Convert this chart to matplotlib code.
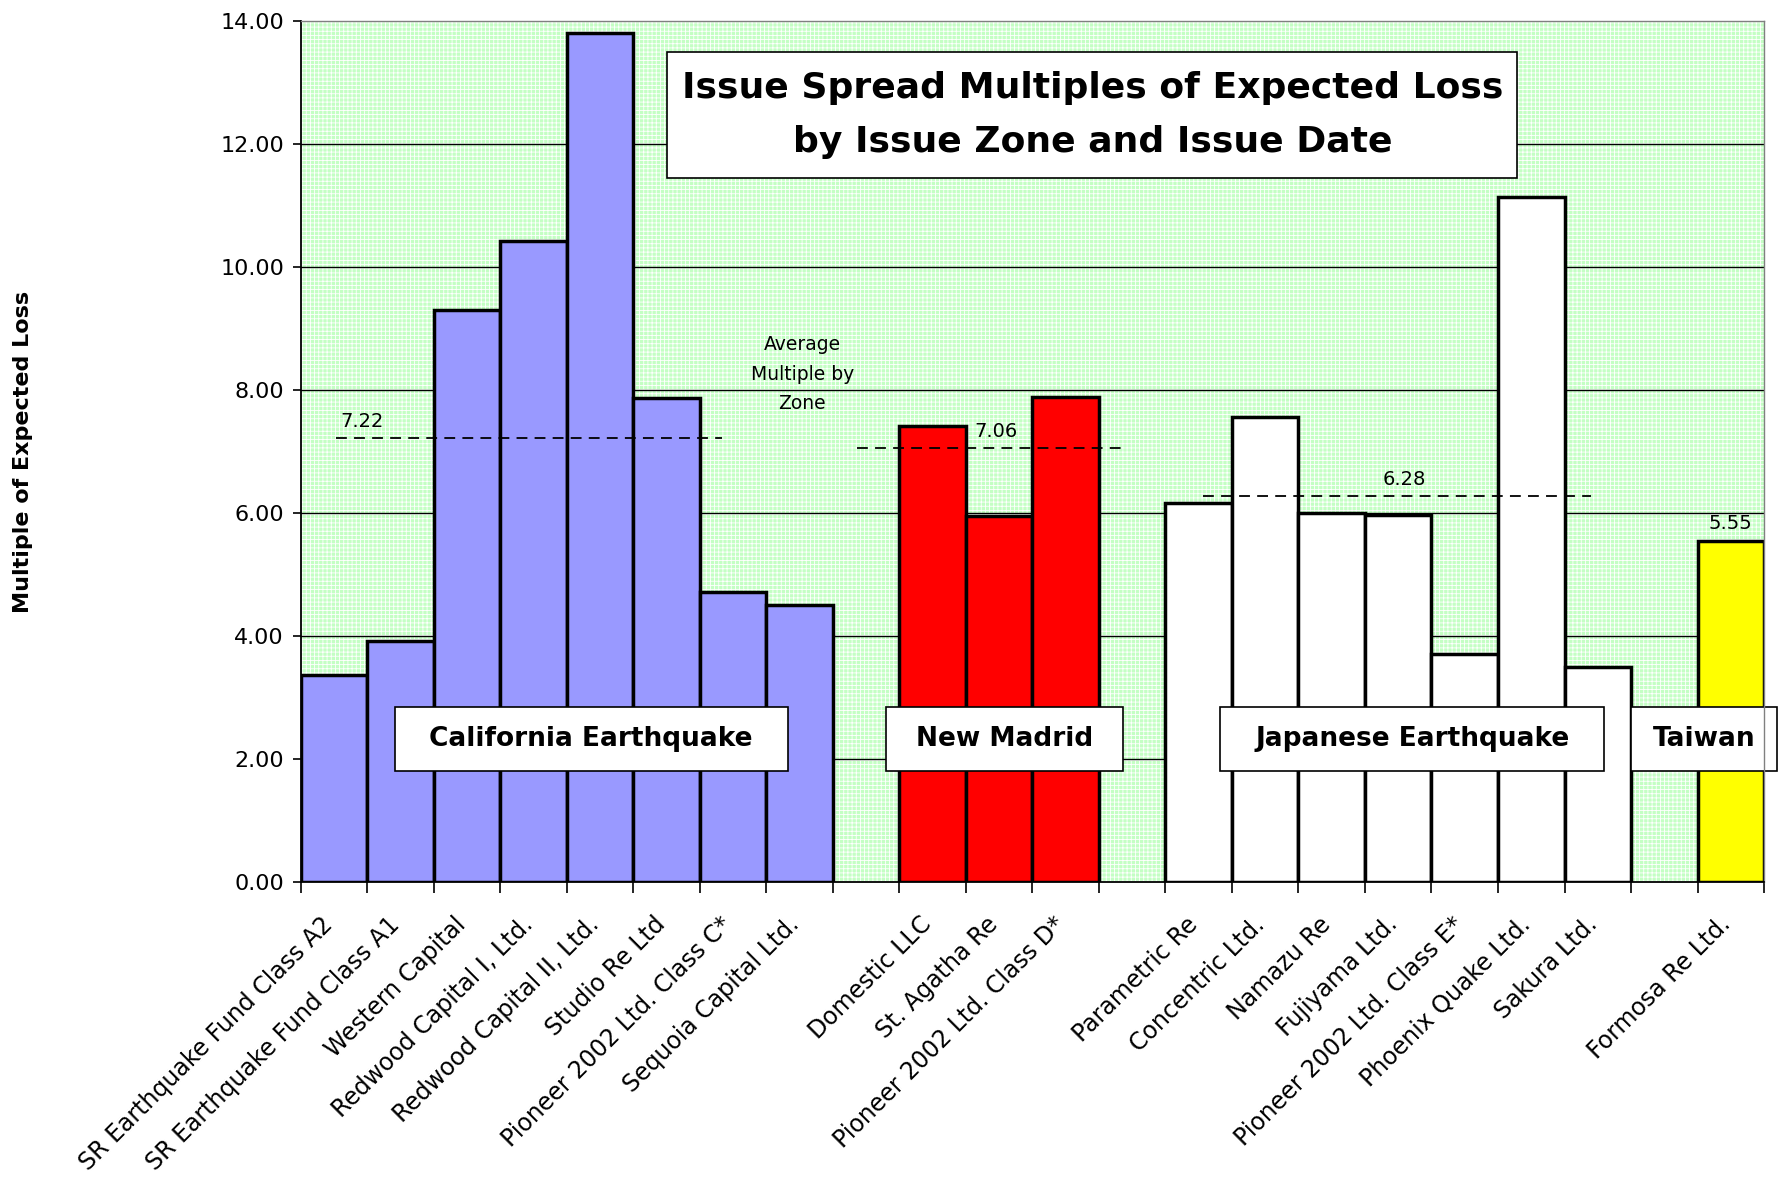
import matplotlib
matplotlib.use("Agg")
import matplotlib.pyplot as plt
from matplotlib.patches import Rectangle
from matplotlib.transforms import ScaledTranslation

# bond multiples of expected loss, grouped by issue zone
ca_names = ["SR Earthquake Fund Class A2", "SR Earthquake Fund Class A1", "Western Capital",
            "Redwood Capital I, Ltd.", "Redwood Capital II, Ltd.", "Studio Re Ltd",
            "Pioneer 2002 Ltd. Class C*", "Sequoia Capital Ltd."]
ca_vals = [3.36, 3.92, 9.30, 10.42, 13.82, 7.87, 4.71, 4.51]

nm_names = ["Domestic LLC", "St. Agatha Re", "Pioneer 2002 Ltd. Class D*"]
nm_vals = [7.41, 5.95, 7.89]

jp_names = ["Parametric Re", "Concentric Ltd.", "Namazu Re", "Fujiyama Ltd.",
            "Pioneer 2002 Ltd. Class E*", "Phoenix Quake Ltd.", "Sakura Ltd."]
jp_vals = [6.17, 7.56, 6.01, 5.97, 3.70, 11.15, 3.49]

tw_names = ["Formosa Re Ltd."]
tw_vals = [5.55]

zone_names = ["California Earthquake", "New Madrid", "Japanese Earthquake", "Taiwan"]
zone_avgs = [7.22, 7.06, 6.28, 5.55]
zone_colors = ["#9999ff", "#ff0000", "#ffffff", "#ffff00"]

groups = [(ca_names, ca_vals), (nm_names, nm_vals), (jp_names, jp_vals), (tw_names, tw_vals)]

plt.rcParams["hatch.linewidth"] = 0.6

fig = plt.figure(figsize=(17.79, 11.79), dpi=100)
ax = fig.add_axes([0.169, 0.252, 0.8226, 0.7298])

# green checked plot area
ax.add_patch(Rectangle((0, 0), 1, 1, transform=ax.transAxes, facecolor="#c4ffc4",
                       edgecolor="white", hatch="++++", lw=0, zorder=0))
for y in range(2, 14, 2):
    ax.axhline(y, color="black", lw=1.0, zorder=1)

# bars: one slot per bond, an empty slot between zones
pos = 0
labels = []
for (names, vals), col in zip(groups, zone_colors):
    xs = list(range(pos, pos + len(vals)))
    ax.bar(xs, vals, width=1.0, color=col, edgecolor="black", linewidth=2.5, zorder=3)
    labels += names + [""]
    pos += len(vals) + 1
labels = labels[:-1]
nslots = len(labels)

ax.set_xlim(-0.5, nslots - 0.5)
ax.set_ylim(0, 14)

# zone averages
avg_spans = [(0.03, 5.84), (7.86, 11.86), (13.06, 18.9)]
for (x0, x1), a in zip(avg_spans, zone_avgs[:3]):
    ax.plot([x0, x1], [a, a], color="black", lw=1.3, dashes=(6, 4), zorder=4)
avg_label_x = [0.42, 9.95, 16.09, 21]
for x, a in zip(avg_label_x, zone_avgs):
    ax.text(x, a + 0.12, f"{a:.2f}", ha="center", va="bottom", fontsize=14, zorder=5)
ax.text(7.04, 8.26, "Average\nMultiple by\nZone", ha="center", va="center",
        fontsize=13.5, linespacing=1.7, zorder=5)

# zone name boxes
box_spans = [(0.915, 6.82), (8.3, 11.86), (13.32, 19.1), (19.5, 21.69)]
for (x0, x1), name in zip(box_spans, zone_names):
    ax.add_patch(Rectangle((x0, 1.81), x1 - x0, 1.03, facecolor="white", edgecolor="black",
                           lw=1.2, zorder=6, clip_on=False))
    ax.text((x0 + x1) / 2, 2.33, name, ha="center", va="center", fontsize=19,
            fontweight="bold", zorder=7)

# title box
ax.add_patch(Rectangle((0.2504, 0.818), 0.5806, 0.146, transform=ax.transAxes,
                       facecolor="white", edgecolor="black", lw=1.2, zorder=6))
ax.text(0.541, 0.891, "Issue Spread Multiples of Expected Loss\nby Issue Zone and Issue Date",
        transform=ax.transAxes, ha="center", va="center", fontsize=26, fontweight="bold",
        linespacing=1.75, zorder=7)

# axes and ticks
ax.set_yticks(range(0, 15, 2))
ax.set_yticklabels([f"{v:.2f}" for v in range(0, 15, 2)], fontsize=16)
ax.tick_params(axis="y", length=6, width=1.2, pad=6)
ax.set_xticks(range(nslots))
ax.set_xticklabels(labels, rotation=45, ha="right", rotation_mode="anchor", fontsize=17)
ax.tick_params(axis="x", which="major", length=0, pad=24)
ax.set_xticks([i - 0.5 for i in range(nslots + 1)], minor=True)
ax.tick_params(axis="x", which="minor", length=8, width=1.2)
shift = ScaledTranslation(-0.13, 0.03, fig.dpi_scale_trans)
for lbl in ax.get_xticklabels():
    lbl.set_transform(lbl.get_transform() + shift)

for s in ["left", "bottom"]:
    ax.spines[s].set_color("black")
    ax.spines[s].set_linewidth(1.3)
for s in ["top", "right"]:
    ax.spines[s].set_color("#808080")
    ax.spines[s].set_linewidth(1.0)
for s in ax.spines.values():
    s.set_zorder(8)

fig.text(0.013, 0.617, "Multiple of Expected Loss", rotation=90, ha="center", va="center",
         fontsize=16, fontweight="bold")

fig.savefig("out.png", dpi=100, facecolor="white")
